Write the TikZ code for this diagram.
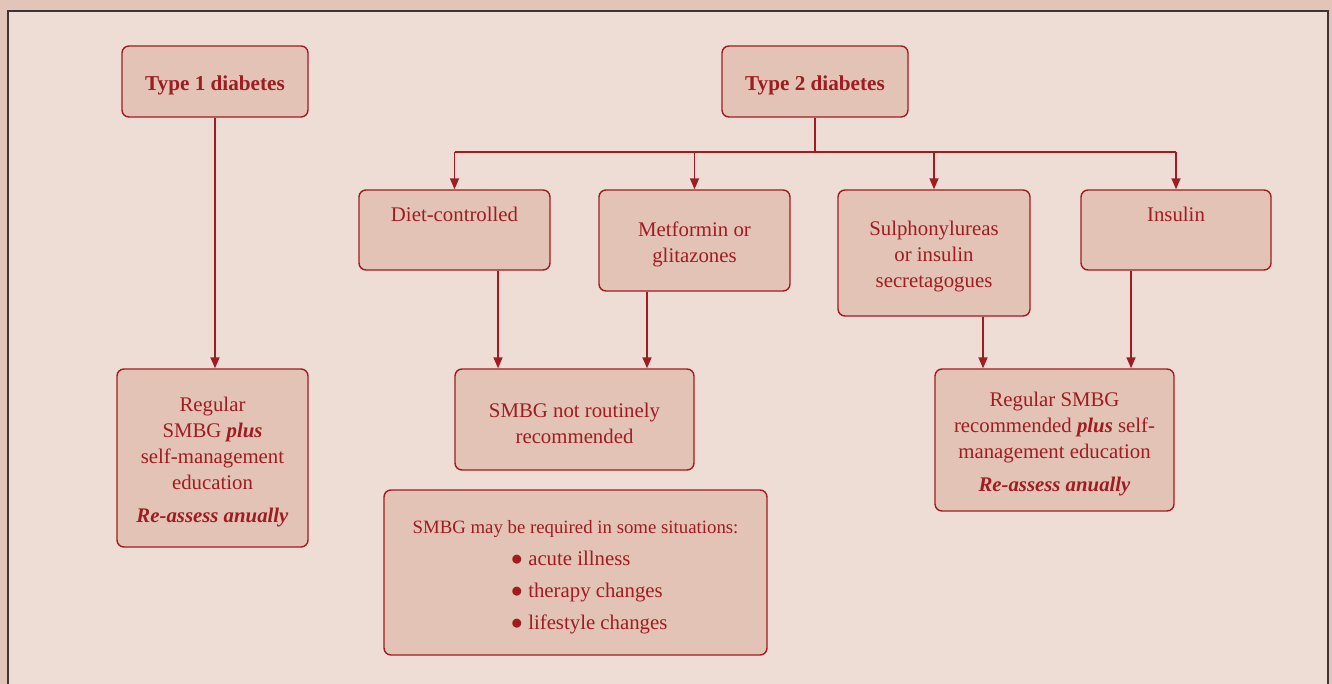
\documentclass[tikz,border=0pt]{standalone}
\usepackage{fontspec}
\setmainfont{Liberation Serif}
\usetikzlibrary{arrows.meta}
\definecolor{pagebg}{HTML}{E3C4B8}
\definecolor{panelbg}{HTML}{EEDDD5}
\definecolor{boxbg}{HTML}{E3C3B6}
\definecolor{wine}{HTML}{9E1C22}
\definecolor{framegray}{HTML}{3A3536}
\tikzset{
  box/.style={draw=wine, fill=boxbg, line width=0.7pt, rounded corners=3.5pt,
    text=wine, align=center, inner sep=2pt, font=\fontsize{10.4}{13}\selectfont},
  title/.style={font=\fontsize{10.6}{13}\selectfont\bfseries},
  link/.style={draw=wine, line width=0.75pt},
  tip/.style={link, -{Triangle[length=5.5pt,width=4.5pt]}},
}
\newcommand{\bi}[1]{\textbf{\textit{#1}}}
\newcommand{\topline}{\rule{0pt}{11pt}}
\newcommand{\situ}[1]{\hspace*{12pt}\makebox[77pt][l]{\textcolor{wine}{●} #1}}
\begin{document}
\begin{tikzpicture}[x=0.5pt,y=-0.5pt]
  \clip (0,0) rectangle (1332,684);
  \fill[pagebg] (0,0) rectangle (1332,684);
  \filldraw[fill=panelbg, draw=framegray, line width=1pt] (8,11) rectangle (1328,700);

  % top row
  \node[box, title, minimum width=93pt, minimum height=35.5pt] (type1) at (215,81.5) {\topline Type 1 diabetes};
  \node[box, title, minimum width=93pt, minimum height=35.5pt] (type2) at (815,81.5) {\topline Type 2 diabetes};

  % treatments
  \node[box, minimum width=95.5pt, minimum height=40pt, text depth=15.4pt] (diet) at (454.5,230) {Diet-controlled};
  \node[box, minimum width=95.5pt, minimum height=50.5pt] (metformin) at (694.5,240.5) {\topline Metformin or\\ glitazones};
  \node[box, minimum width=96pt, minimum height=63pt] (sulph) at (934,253) {\topline Sulphonylureas\\ or insulin\\ secretagogues};
  \node[box, minimum width=95pt, minimum height=40pt, text depth=15.4pt] (insulin) at (1176,230) {Insulin};

  % advice
  \node[box, minimum width=95.5pt, minimum height=89pt] (reg1) at (212.5,458)
    {\topline Regular\\ SMBG \bi{plus}\\ self-management\\ education\\[3.5pt] \bi{Re-assess anually}};
  \node[box, minimum width=119.5pt, minimum height=50.5pt] (notroutine) at (574.5,419.5)
    {\topline SMBG not routinely\\ recommended};
  \node[box, minimum width=119.5pt, minimum height=71pt] (reg2) at (1054.5,440)
    {\topline Regular SMBG\\ recommended \bi{plus} self-\\ management education\\[3.5pt] \bi{Re-assess anually}};
  \node[box, minimum width=191.5pt, minimum height=82.5pt, font=\fontsize{10.4}{16}\selectfont] (situations) at (575.5,572.5)
    {\topline{\fontsize{9.4}{16}\selectfont SMBG may be required in some situations:}\\
     \situ{acute illness}\\ \situ{therapy changes}\\ \situ{lifestyle changes}};

  \coordinate (fork) at (815,152);
  \begin{scope}[tip]
    \draw (type1) -- (type1 |- reg1.north);
    \draw[link, -] (type2) -- (fork);
    \draw[link, -] (fork -| diet) -- (fork -| insulin);
    \draw (fork -| diet) -- (diet);
    \draw (fork -| metformin) -- (metformin);
    \draw (fork -| sulph) -- (sulph);
    \draw (fork -| insulin) -- (insulin);
    \draw (498,0 |- diet.south) -- (498,0 |- notroutine.north);
    \draw (647,0 |- metformin.south) -- (647,0 |- notroutine.north);
    \draw (983,0 |- sulph.south) -- (983,0 |- reg2.north);
    \draw (1131,0 |- insulin.south) -- (1131,0 |- reg2.north);
  \end{scope}
\end{tikzpicture}
\end{document}
